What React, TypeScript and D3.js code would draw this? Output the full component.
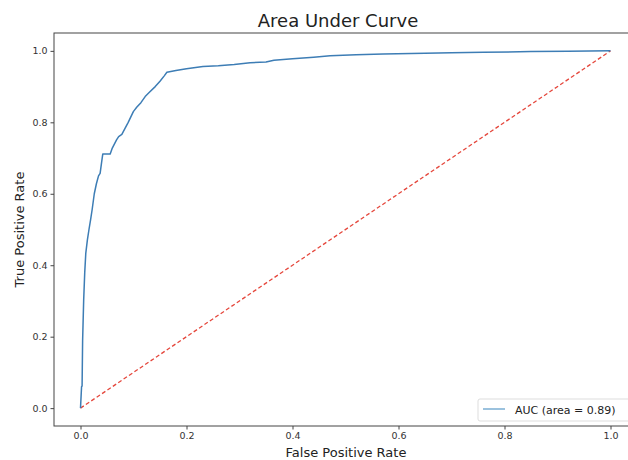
import React, { useEffect, useRef } from 'react';
import * as d3 from 'd3';

// ROC points
const fpr = [0, 0.002, 0.003, 0.004, 0.006, 0.008, 0.010, 0.013, 0.016, 0.019, 0.022, 0.026, 0.030, 0.034, 0.037, 0.040, 0.042, 0.049, 0.056, 0.060, 0.068, 0.072, 0.078, 0.084, 0.090, 0.0997, 0.106, 0.114, 0.122, 0.130, 0.141, 0.150, 0.158, 0.163, 0.180, 0.200, 0.231, 0.260, 0.290, 0.320, 0.350, 0.365, 0.400, 0.440, 0.471, 0.520, 0.571, 0.650, 0.700, 0.760, 0.850, 0.920, 1.0];
const tpr = [0, 0.060, 0.062, 0.190, 0.303, 0.380, 0.434, 0.471, 0.500, 0.527, 0.556, 0.600, 0.628, 0.650, 0.657, 0.690, 0.711, 0.711, 0.711, 0.728, 0.751, 0.760, 0.766, 0.783, 0.800, 0.830, 0.842, 0.855, 0.872, 0.884, 0.900, 0.915, 0.930, 0.940, 0.945, 0.950, 0.956, 0.958, 0.962, 0.967, 0.969, 0.974, 0.978, 0.982, 0.986, 0.989, 0.991, 0.993, 0.995, 0.996, 0.998, 0.999, 1.0];
const diagonal = [0, 1];
const ticks = [0, 0.2, 0.4, 0.6, 0.8, 1.0];
const legendLabel = 'AUC (area = 0.89)';

const W = 628;
const H = 460;
const frame = { left: 54, right: 637, top: 33, bottom: 426 };

function RocChart() {
  const ref = useRef<SVGSVGElement>(null);

  useEffect(() => {
    const svg = d3.select(ref.current);
    svg.selectAll('*').remove();

    const x = d3.scaleLinear().domain([-0.05, 1.05]).range([frame.left, frame.right]);
    const y = d3.scaleLinear().domain([-0.05, 1.05]).range([frame.bottom, frame.top]);
    const font = 'DejaVu Sans, sans-serif';

    svg.append('rect')
      .attr('x', 0).attr('y', 0).attr('width', W).attr('height', H)
      .attr('fill', '#fff');

    // diagonal reference line
    const line = d3.line<number>().x(d => x(d)).y(d => y(d));
    svg.append('path')
      .attr('d', line(diagonal))
      .attr('fill', 'none')
      .attr('stroke', '#e5473c')
      .attr('stroke-width', 1.3)
      .attr('stroke-dasharray', '4,2.5');

    // ROC curve
    const roc = d3.line<number>().x(d => x(fpr[d])).y(d => y(tpr[d]));
    svg.append('path')
      .attr('d', roc(d3.range(fpr.length)))
      .attr('fill', 'none')
      .attr('stroke', '#3d7db5')
      .attr('stroke-width', 1.5)
      .attr('stroke-linejoin', 'round');

    // frame
    svg.append('rect')
      .attr('x', frame.left).attr('y', frame.top)
      .attr('width', frame.right - frame.left)
      .attr('height', frame.bottom - frame.top)
      .attr('fill', 'none')
      .attr('stroke', '#444')
      .attr('stroke-width', 1);

    // x axis
    const xAxis = svg.append('g')
      .attr('transform', `translate(0,${frame.bottom})`)
      .call(d3.axisBottom(x).tickValues(ticks).tickFormat(d3.format('.1f')).tickSize(3.5).tickPadding(3));
    xAxis.select('.domain').remove();

    // y axis
    const yAxis = svg.append('g')
      .attr('transform', `translate(${frame.left},0)`)
      .call(d3.axisLeft(y).tickValues(ticks).tickFormat(d3.format('.1f')).tickSize(3.5).tickPadding(3));
    yAxis.select('.domain').remove();

    svg.selectAll('.tick line').attr('stroke', '#444');
    svg.selectAll('.tick text')
      .attr('fill', '#333')
      .style('font-family', font)
      .style('font-size', '9.5px');

    // labels
    svg.append('text')
      .attr('x', 338).attr('y', 27)
      .attr('text-anchor', 'middle')
      .attr('fill', '#222')
      .style('font-family', font)
      .style('font-size', '18px')
      .text('Area Under Curve');

    svg.append('text')
      .attr('x', 346).attr('y', 457)
      .attr('text-anchor', 'middle')
      .attr('fill', '#222')
      .style('font-family', font)
      .style('font-size', '13px')
      .text('False Positive Rate');

    svg.append('text')
      .attr('transform', `translate(24,${(frame.top + frame.bottom) / 2}) rotate(-90)`)
      .attr('text-anchor', 'middle')
      .attr('fill', '#222')
      .style('font-family', font)
      .style('font-size', '13px')
      .text('True Positive Rate');

    // legend, lower right
    const lg = svg.append('g').attr('transform', 'translate(478,399)');
    lg.append('rect')
      .attr('width', 152).attr('height', 22).attr('rx', 2)
      .attr('fill', '#fff')
      .attr('stroke', '#ddd');
    lg.append('line')
      .attr('x1', 5).attr('x2', 27).attr('y1', 10).attr('y2', 10)
      .attr('stroke', '#7aaed3')
      .attr('stroke-width', 1.5);
    lg.append('text')
      .attr('x', 37).attr('y', 15)
      .attr('fill', '#222')
      .style('font-family', font)
      .style('font-size', '11px')
      .text(legendLabel);
  }, []);

  return <svg ref={ref} width={W} height={H} style={{ position: 'absolute', left: 0, top: 0 }} />;
}

export default function App() {
  return (
    <div>
      <RocChart />
    </div>
  );
}
